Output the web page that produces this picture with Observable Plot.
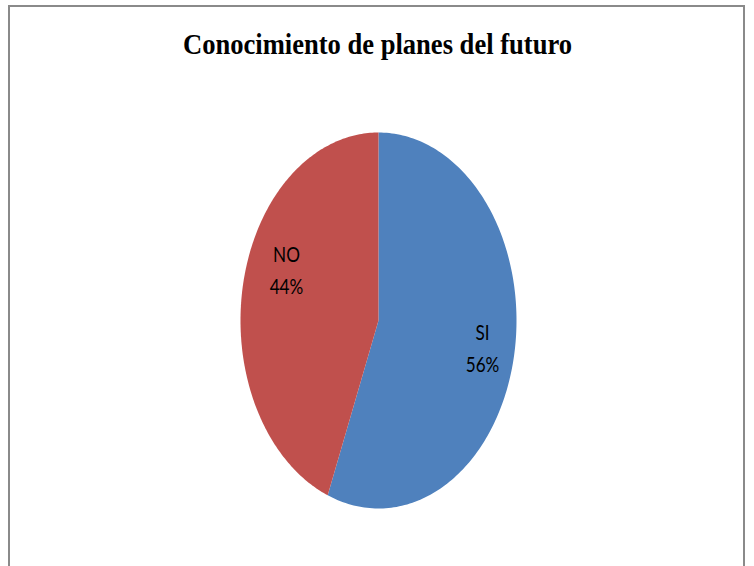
<!DOCTYPE html>
<html>
<head>
<meta charset="utf-8">
<script src="https://cdn.jsdelivr.net/npm/d3@7"></script>
<script src="https://cdn.jsdelivr.net/npm/@observablehq/plot@0.6"></script>
<style>
  html, body { margin: 0; padding: 0; background: #fff; }
  #wrap { position: relative; width: 754px; height: 566px; overflow: hidden; }
  #border { position: absolute; left: 8px; top: 5px; width: 737px; height: 620px;
            border: 2px solid #8a8a8a; border-bottom: none; box-sizing: border-box; }
  #chart { position: absolute; left: 0; top: 0; }
</style>
</head>
<body>
<div id="wrap"><div id="border"></div><div id="chart"></div></div>
<script>
const title = "Conocimiento de planes del futuro";
const categories = ["SI", "NO"];
const values = [56, 44];
const colors = ["#4F81BD", "#C0504D"];

const total = d3.sum(values);
const pie = d3.pie().sort(null).value(d => d)(values);

// Build sector outlines in unit space (angles clockwise from top)
const sectorPts = [];
pie.forEach((p, i) => {
  const steps = 180;
  sectorPts.push({cat: categories[i], x: 0, y: 0});
  for (let k = 0; k <= steps; k++) {
    const a = p.startAngle + (p.endAngle - p.startAngle) * k / steps;
    sectorPts.push({cat: categories[i], x: Math.sin(a), y: Math.cos(a)});
  }
});

const labels = pie.map((p, i) => {
  const a = (p.startAngle + p.endAngle) / 2;
  return {cat: categories[i], x: 0.76 * Math.sin(a), y: 0.76 * Math.cos(a),
          text: categories[i] + "\n" + Math.round(values[i] / total * 100) + "%"};
});

const labelStyle = {text: "text", textAnchor: "middle", lineAnchor: "middle",
  fontFamily: "Lato, 'Open Sans', sans-serif", fontSize: 22, lineHeight: 32 / 22, fill: "#000"};

const chart = Plot.plot({
  width: 754, height: 566,
  margin: 0,
  x: {domain: [-1, 1], range: [240, 516], axis: null},
  y: {domain: [-1, 1], range: [508, 132], axis: null},
  color: {domain: categories, range: colors},
  style: {background: "transparent", overflow: "visible"},
  marks: [
    Plot.line(sectorPts, {x: "x", y: "y", z: "cat", fill: "cat", stroke: "none", curve: "linear-closed"}),
    Plot.text(labels.filter(d => d.cat === "SI"), {x: "x", y: "y", ...labelStyle, dx: 1, dy: -2, className: "plabel"}),
    Plot.text(labels.filter(d => d.cat === "NO"), {x: "x", y: "y", ...labelStyle, dx: 11, dy: -26, className: "plabel"}),
    Plot.text([title], {frameAnchor: "top", lineAnchor: "top", dy: 33,
      fontFamily: "'Liberation Serif', 'Times New Roman', serif", fontWeight: "bold",
      fontSize: 29.5, fill: "#000", className: "ptitle"})
  ]
});
document.getElementById("chart").appendChild(chart);

// horizontal condensing to match the narrow typefaces of the original
chart.querySelectorAll(".plabel text").forEach(t => {
  const tr = t.getAttribute("transform") || "";
  t.setAttribute("transform", tr + " scale(0.78,1)");
});
chart.querySelectorAll(".ptitle text").forEach(t => {
  t.setAttribute("textLength", 389);
  t.setAttribute("lengthAdjust", "spacingAndGlyphs");
});
</script>
</body>
</html>
